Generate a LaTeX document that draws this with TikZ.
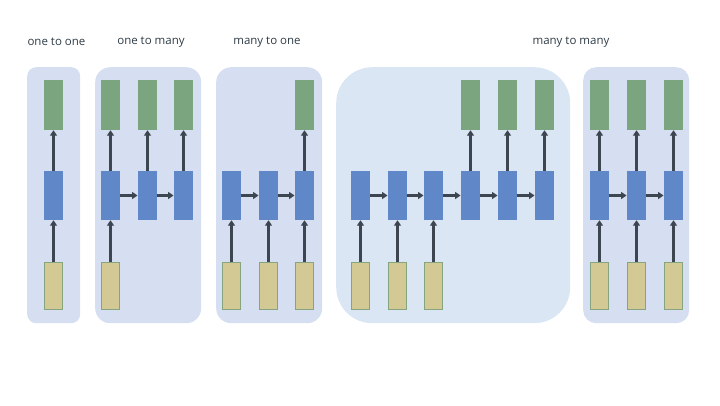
\documentclass[tikz,border=0pt]{standalone}
\usepackage{fontspec}
\setmainfont{Open Sans}
\usetikzlibrary{arrows.meta}
\definecolor{panelc}{HTML}{D5DFF1}
\definecolor{bigc}{HTML}{DAE6F4}
\definecolor{bluec}{HTML}{6088C8}
\definecolor{greenc}{HTML}{7AA57F}
\definecolor{yellowc}{HTML}{D3C995}
\definecolor{yborder}{HTML}{86A57E}
\definecolor{arrc}{HTML}{3D4550}
\definecolor{txtc}{HTML}{2E3B45}
\tikzset{
  panel/.style={fill=panelc, draw=none, inner sep=0pt, anchor=north west},
  bigpanel/.style={fill=bigc, draw=none, inner sep=0pt, anchor=north west},
  cell/.style={draw=none, inner sep=0pt, minimum width=19.5pt},
  outbox/.style={cell, fill=greenc, minimum height=50pt},
  hidbox/.style={cell, fill=bluec, minimum height=49pt},
  inbox/.style={cell, fill=yellowc, draw=yborder, line width=0.6pt, minimum width=18.5pt, minimum height=47pt},
  arr/.style={draw=arrc, line width=2.2pt, -{Triangle[length=5.5pt,width=7pt]}},
  lbl/.style={text=txtc, font=\fontsize{11.5}{13}\selectfont, inner sep=0pt}
}
\begin{document}
\begin{tikzpicture}[x=1pt,y=-1pt]
\useasboundingbox (0,0) rectangle (720,405);
% panels
\node[panel, rounded corners=9pt, minimum width=53pt, minimum height=256pt] (pan1) at (27,67) {};
\node[panel, rounded corners=15pt, minimum width=106pt, minimum height=256pt] (pan2) at (95,67) {};
\node[panel, rounded corners=15pt, minimum width=106pt, minimum height=256pt] (pan3) at (216,67) {};
\node[bigpanel, rounded corners=36pt, minimum width=234pt, minimum height=256pt] (pan4) at (336,67) {};
\node[panel, rounded corners=13pt, minimum width=106pt, minimum height=256pt] (pan5) at (583,67) {};
% labels
\node[lbl] (l1) at (56.5,42) {one to one};
\node[lbl] (l2) at (151,42) {one to many};
\node[lbl] (l3) at (267,42) {many to one};
\node[lbl] (l4) at (571,42) {many to many};
% panel 1
\node[outbox] (p1o1) at (53.5,105) {};
\node[hidbox] (p1h1) at (53.5,195.5) {};
\node[inbox] (p1i1) at (53.5,286) {};
\draw[arr] (p1i1) -- (p1h1);
\draw[arr] (p1h1) -- (p1o1);
% panel 2
\foreach \i/\x in {1/110.5,2/147.5,3/183.5}{
  \node[outbox] (p2o\i) at (\x,105) {};
  \node[hidbox] (p2h\i) at (\x,195.5) {};
  \draw[arr] (p2h\i) -- (p2o\i);
}
\node[inbox] (p2i1) at (110.5,286) {};
\draw[arr] (p2i1) -- (p2h1);
\draw[arr] (p2h1) -- (p2h2);
\draw[arr] (p2h2) -- (p2h3);
% panel 3
\foreach \i/\x in {1/231.5,2/268.5,3/304.5}{
  \node[hidbox] (p3h\i) at (\x,195.5) {};
  \node[inbox] (p3i\i) at (\x,286) {};
  \draw[arr] (p3i\i) -- (p3h\i);
}
\node[outbox] (p3o3) at (304.5,105) {};
\draw[arr] (p3h3) -- (p3o3);
\draw[arr] (p3h1) -- (p3h2);
\draw[arr] (p3h2) -- (p3h3);
% panel 4
\foreach \i/\x in {1/360.5,2/397.5,3/433.5,4/470.5,5/507.5,6/544.5}{
  \node[hidbox] (p4h\i) at (\x,195.5) {};
}
\foreach \i/\x in {1/360.5,2/397.5,3/433.5}{
  \node[inbox] (p4i\i) at (\x,286) {};
  \draw[arr] (p4i\i) -- (p4h\i);
}
\foreach \i/\x in {4/470.5,5/507.5,6/544.5}{
  \node[outbox] (p4o\i) at (\x,105) {};
  \draw[arr] (p4h\i) -- (p4o\i);
}
\draw[arr] (p4h1) -- (p4h2);
\draw[arr] (p4h2) -- (p4h3);
\draw[arr] (p4h3) -- (p4h4);
\draw[arr] (p4h4) -- (p4h5);
\draw[arr] (p4h5) -- (p4h6);
% panel 5
\foreach \i/\x in {1/599.5,2/636.5,3/673.5}{
  \node[outbox] (p5o\i) at (\x,105) {};
  \node[hidbox] (p5h\i) at (\x,195.5) {};
  \node[inbox] (p5i\i) at (\x,286) {};
  \draw[arr] (p5i\i) -- (p5h\i);
  \draw[arr] (p5h\i) -- (p5o\i);
}
\draw[arr] (p5h1) -- (p5h2);
\draw[arr] (p5h2) -- (p5h3);
\end{tikzpicture}
\end{document}
